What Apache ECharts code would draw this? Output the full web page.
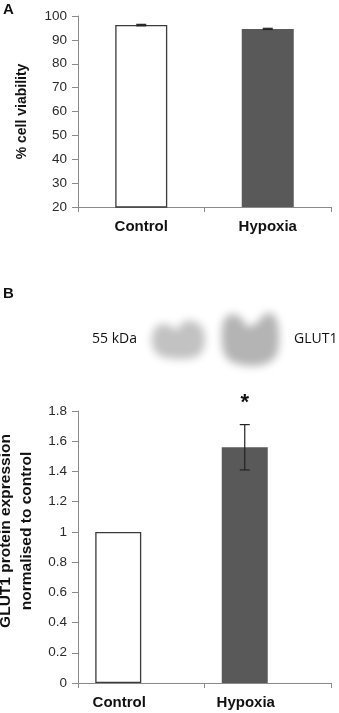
<!DOCTYPE html>
<html>
<head>
<meta charset="utf-8">
<script src="https://cdn.jsdelivr.net/npm/echarts@6/dist/echarts.min.js"></script>
<style>
html,body{margin:0;padding:0;background:#fff;}
#main{width:339px;height:713px;}
</style>
</head>
<body>
<div id="main"></div>
<script>
// ---- Data ----
var categories = ['Control', 'Hypoxia'];
// Panel A: % cell viability
var viabilityMean = [96.2, 94.6];
var viabilityErr = [0.3, 0.25];
var viabilityTicks = [20, 30, 40, 50, 60, 70, 80, 90, 100];
// Panel B: GLUT1 protein expression normalised to control
var glut1Mean = [1.0, 1.56];
var glut1Err = [0, 0.15];
var glut1Sig = ['', '*'];
var glut1Ticks = [0, 0.2, 0.4, 0.6, 0.8, 1, 1.2, 1.4, 1.6, 1.8];

var FONT = '"Liberation Sans", Arial, sans-serif';
var axisGray = '#8a8a8a';
var barColors = ['#ffffff', '#595959'];

var chart = echarts.init(document.getElementById('main'), null, {renderer: 'canvas'});

function errRender(offsetPx, labels) {
  return function (params, api) {
    var idx = api.value(0), m = api.value(1), e = api.value(2);
    var top = api.coord([idx, m + e]);
    var bot = api.coord([idx, m - e]);
    var x = top[0] + offsetPx;
    var cap = 5;
    var children = [];
    if (e > 0) {
      var st = {stroke: '#222', lineWidth: 1.2};
      children.push({type: 'line', shape: {x1: x, y1: top[1], x2: x, y2: bot[1]}, style: st});
      children.push({type: 'line', shape: {x1: x - cap, y1: top[1], x2: x + cap, y2: top[1]}, style: st});
      children.push({type: 'line', shape: {x1: x - cap, y1: bot[1], x2: x + cap, y2: bot[1]}, style: st});
    }
    if (labels && labels[idx]) {
      children.push({type: 'text', x: x, y: top[1] - 22, style: {
        text: labels[idx], fontFamily: FONT, fontWeight: 'bold', fontSize: 22,
        fill: '#111', align: 'center', verticalAlign: 'middle'}});
    }
    return {type: 'group', children: children};
  };
}

// soft-edged blot: draw polygon off-canvas, show only its blurred shadow
var OFF = 1000;
function blot(points, color, blur) {
  return {
    type: 'polygon', silent: true,
    shape: {points: points.map(function (p) { return [p[0] - OFF, p[1]]; }), smooth: 0.25},
    style: {fill: color, shadowBlur: blur, shadowColor: color, shadowOffsetX: OFF * (window.devicePixelRatio || 1)}
  };
}

var yAxisCommon = {
  type: 'value',
  axisLine: {show: true, lineStyle: {color: axisGray, width: 1}},
  axisTick: {show: true, length: 6, lineStyle: {color: axisGray}},
  splitLine: {show: false},
  axisLabel: {fontFamily: FONT, fontSize: 13.5, color: '#2a2a2a', margin: 11},
  nameLocation: 'middle',
  nameTextStyle: {fontFamily: FONT, fontWeight: 'bold', fontSize: 14, color: '#111'}
};

var option = {
  backgroundColor: '#fff',
  animation: false,
  grid: [
    {left: 78, top: 16, width: 253, height: 191, outerBoundsMode: 'none', containLabel: false},
    {left: 78, top: 411, width: 253, height: 272, outerBoundsMode: 'none', containLabel: false}
  ],
  xAxis: [
    {gridIndex: 0, type: 'category', data: categories,
     axisLine: {lineStyle: {color: axisGray}},
     axisTick: {show: true, length: 5, lineStyle: {color: axisGray}},
     axisLabel: {fontFamily: FONT, fontWeight: 'bold', fontSize: 15, color: '#111', margin: 12}},
    {gridIndex: 1, type: 'category', data: categories,
     axisLine: {lineStyle: {color: axisGray}},
     axisTick: {show: true, length: 5, lineStyle: {color: axisGray}},
     axisLabel: {fontFamily: FONT, fontWeight: 'bold', fontSize: 15, color: '#111', margin: 12,
                 padding: [0, 44, 0, 0]}}
  ],
  yAxis: [
    Object.assign({}, yAxisCommon, {gridIndex: 0, min: 20, max: 100, interval: 10,
      name: '% cell viability', nameGap: 49}),
    Object.assign({}, yAxisCommon, {gridIndex: 1, min: 0, max: 1.8, interval: 0.2,
      name: 'GLUT1 protein expression\nnormalised to control', nameGap: 31,
      nameTextStyle: {fontFamily: FONT, fontWeight: 'bold', fontSize: 15.5, color: '#111',
                      lineHeight: 21, padding: [0, 0, 0, 32]}})
  ],
  series: [
    {type: 'bar', xAxisIndex: 0, yAxisIndex: 0, barWidth: 52,
     data: viabilityMean.map(function (v, i) {
       return {value: v, itemStyle: {color: barColors[i], borderColor: '#3a3a3a', borderWidth: i === 0 ? 1.3 : 0}};
     })},
    {type: 'custom', xAxisIndex: 0, yAxisIndex: 0, z: 5,
     renderItem: errRender(0, null),
     data: viabilityMean.map(function (v, i) { return [i, v, viabilityErr[i]]; })},
    {type: 'bar', xAxisIndex: 1, yAxisIndex: 1, barWidth: 46, barGap: '0%',
     data: glut1Mean.map(function (v, i) {
       return {value: v, itemStyle: {color: barColors[i], borderColor: '#3a3a3a', borderWidth: i === 0 ? 1.3 : 0}};
     })},
    {type: 'bar', xAxisIndex: 1, yAxisIndex: 1, barWidth: 46, barGap: '0%',
     data: categories.map(function () { return null; })},
    {type: 'custom', xAxisIndex: 1, yAxisIndex: 1, z: 5,
     renderItem: errRender(-23, glut1Sig),
     data: glut1Mean.map(function (v, i) { return [i, v, glut1Err[i]]; })}
  ],
  graphic: [
    {type: 'text', left: 3, top: 2, style: {text: 'A', fontFamily: FONT, fontWeight: 'bold', fontSize: 15, fill: '#111'}},
    {type: 'text', left: 3, top: 286, style: {text: 'B', fontFamily: FONT, fontWeight: 'bold', fontSize: 15, fill: '#111'}},
    {type: 'text', left: 92, top: 332, style: {text: '55 kDa', fontFamily: '"Open Sans", sans-serif', fontSize: 14, fill: '#111'}},
    {type: 'text', left: 294, top: 332, style: {text: 'GLUT1', fontFamily: '"Open Sans", sans-serif', fontSize: 14, fill: '#111'}},
    blot([[152, 336], [156, 327], [163, 324], [171, 326], [177, 330], [183, 322], [193, 321], [202, 327],
          [205, 338], [203, 350], [196, 357], [178, 359], [160, 356], [153, 348]], '#c2c2c2', 9),
    blot([[222, 328], [226, 317], [234, 314], [242, 319], [248, 327], [258, 322], [265, 314], [273, 314],
          [278, 324], [279, 340], [277, 354], [268, 363], [250, 366], [230, 361], [223, 350]], '#b4b4b4', 9)
  ]
};
chart.setOption(option);
</script>
</body>
</html>
